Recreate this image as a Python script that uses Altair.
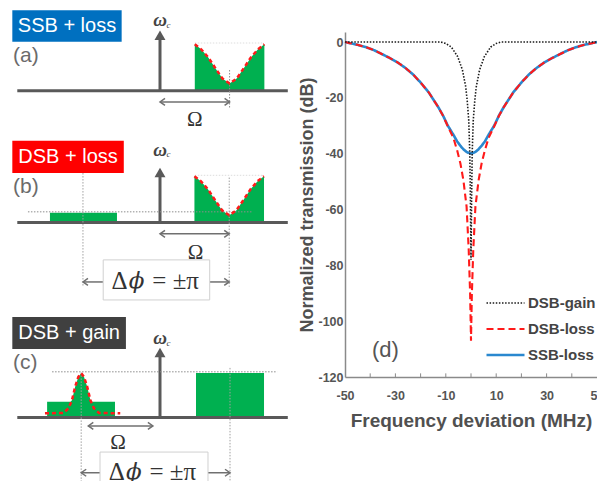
import altair as alt
import pandas as pd

# ---------------- panel (d) data ----------------
SERIES = ["DSB-gain", "DSB-loss", "SSB-loss"]
SERIES_COLORS = ["#1a1a1a", "#ff1a1a", "#2a88cf"]
SERIES_DASH = [[1.5, 1.6], [7, 4], [1, 0]]
SERIES_WIDTH = [1.6, 2.6, 3.0]

SSB_F = [-50, -48, -45, -41.8, -38.5, -35.6, -32.5, -29.3, -26, -23, -20, -16.8, -13, -11, -9.3, -7, -5.5, -4, -3, -2, -1,
         0, 1, 2, 3, 4, 5.5, 7, 9.3, 11, 13, 16.8, 20, 23, 26, 29.3, 32.5, 35.6, 38.5, 41.8, 45, 48, 50]
SSB_DB = [0, -0.4, -1.0, -1.8, -2.9, -4.2, -5.6, -7.2, -9.3, -11.6, -14.5, -18.0, -23.3, -26.5, -29.8, -33.2, -35.6, -37.4, -38.4, -39.2, -39.7,
          -39.9, -39.7, -39.2, -38.4, -37.4, -35.6, -33.2, -29.8, -26.5, -23.3, -18.0, -14.5, -11.6, -9.3, -7.2, -5.6, -4.2, -2.9, -1.8, -1.0, -0.4, 0]

DSBL_F = [-50, -48, -45, -41.8, -38.5, -35.6, -32.5, -29.3, -26, -23, -20, -16.8, -13, -11, -9.3, -7, -5.5, -4.2, -3, -1.75, -0.9, -0.35,
          0, 0.35, 0.9, 1.75, 3, 4.2, 5.5, 7, 9.3, 11, 13, 16.8, 20, 23, 26, 29.3, 32.5, 35.6, 38.5, 41.8, 45, 48, 50]
DSBL_DB = [0, -0.4, -1.0, -1.8, -2.9, -4.2, -5.6, -7.2, -9.3, -11.6, -14.5, -18.0, -23.3, -26.6, -30.0, -34.3, -38.8, -43.5, -49.6, -59.0, -74.6, -90.0,
           -107.0, -90.0, -74.6, -59.0, -49.6, -43.5, -38.8, -34.3, -30.0, -26.6, -23.3, -18.0, -14.5, -11.6, -9.3, -7.2, -5.6, -4.2, -2.9, -1.8, -1.0, -0.4, 0]

DSBG_F = [-50, -12, -10, -7.8, -5.3, -3.4, -2.1, -1.5, -0.9, -0.5, -0.25, 0, 0.25, 0.5, 0.9, 1.5, 2.1, 3.4, 5.3, 7.8, 10, 12, 50]
DSBG_DB = [0, 0, -0.5, -1.8, -5.2, -10.0, -16.0, -21.0, -28.0, -39.0, -55.0, -78.0, -55.0, -39.0, -28.0, -21.0, -16.0, -10.0, -5.2, -1.8, -0.5, 0, 0]

X_LABELS = [-50, -30, -10, 10, 30, 50]
X_MINOR = [-40, -30, -20, -10, 0, 10, 20, 30, 40]
Y_LABELS = [0, -20, -40, -60, -80, -100, -120]
PANEL_D_TAG = "(d)"

# ---------------- schematic (a)-(c) data ----------------
# x unit: sideband offset Omega = 1, carrier at 0 ; y unit: sideband amplitude = 1
PANEL_SHIFT = [0.0, -2.93, -7.26]
TAG_TEXT = ["SSB + loss", "DSB + loss", "DSB + gain"]
TAG_FILL = ["#0070c0", "#ff0000", "#404040"]
TAG_U0 = [-2.08, -2.08, -2.08]
TAG_U1 = [-0.54, -0.51, -0.48]
TAG_A0 = [1.09, 1.10, 1.52]
TAG_A1 = [1.79, 1.82, 2.23]
LETTER_TEXT = ["(a)", "(b)", "(c)"]
LETTER_A = [0.77, 0.79, 1.20]
CARRIER_TOP = [1.33, 1.21, 1.54]
OMEGA_C_A = [1.57, 1.62, 1.76]
BASE_U = [-2.01, 1.80]

GREEN_PANEL = [1, 2]
GREEN_U0 = [-1.55, 0.507]
GREEN_U1 = [-0.606, 1.465]
GREEN_TOP = [0.216, 0.985]

NOTCH_PANEL = [0, 1]
NOTCH_CENTER = [0.98, 0.975]
NOTCH_DU = [-0.49, -0.4, -0.3, -0.2, -0.1, 0, 0.1, 0.2, 0.3, 0.4, 0.49]
NOTCH_A = [1.03, 0.92, 0.74, 0.5, 0.27, 0.16, 0.27, 0.5, 0.74, 0.92, 1.03]

PEAK_CENTER = -1.11
PEAK_DU = [-0.51, -0.25, -0.18, -0.13, -0.085, -0.04, 0, 0.04, 0.085, 0.13, 0.18, 0.25, 0.55]
PEAK_A = [0.09, 0.1, 0.2, 0.38, 0.68, 0.9, 0.98, 0.9, 0.68, 0.38, 0.2, 0.1, 0.09]
PEAK_FILL_DU = [-0.48, -0.15, -0.13, -0.085, -0.04, 0, 0.04, 0.085, 0.13, 0.15, 0.476]
PEAK_FILL_A = [0.347, 0.347, 0.38, 0.68, 0.9, 0.98, 0.9, 0.68, 0.38, 0.347, 0.347]

GUIDE_PANEL = [0, 0, 1, 1, 1, 1, 2, 2, 2]
GUIDE_U0 = [0.98, 0.49, -1.86, -1.085, 0.975, 0.49, -1.52, -1.11, 0.986]
GUIDE_U1 = [0.98, 1.465, 1.30, -1.085, 0.975, 1.465, 1.65, -1.11, 0.986]
GUIDE_A0 = [0.46, 1.06, 0.238, 1.1, 1.0, 1.05, 1.013, 1.0, 1.1]
GUIDE_A1 = [-0.38, 1.06, 0.238, -1.43, -1.43, 1.05, 1.013, -1.6, -1.6]
GUIDE_COLOR = ["#8c8c8c", "#dddddd", "#8c8c8c", "#a0a0a0", "#a0a0a0", "#dddddd", "#8c8c8c", "#a0a0a0", "#a0a0a0"]

OMEGA_U0 = [0.0, 0.0, -1.01]
OMEGA_U1 = [0.98, 0.975, -0.1]
OMEGA_A = [-0.25, -0.25, -0.19]
OMEGA_LABEL_U = [0.49, 0.5, -0.59]
OMEGA_LABEL_A = [-0.65, -0.67, -0.57]

PHASE_PANEL = [1, 2]
PHASE_BOX_U0 = [-0.80, -0.845]
PHASE_BOX_U1 = [0.70, 0.676]
PHASE_BOX_A0 = [-0.83, -0.77]
PHASE_BOX_A1 = [-1.72, -1.75]
PHASE_TEXT_SHIFT = [0.0, -0.04]
PHASE_TEXT_A = [-1.29, -1.22]
PHASE_ARROW_A = [-1.32, -1.23]
PHASE_LEFT_END = [-1.085, -1.11]
PHASE_RIGHT_END = [0.975, 0.986]
PHASE_PIECES = ["Δ", "ϕ", "= ±π"]
PHASE_PIECE_U = [-0.57, -0.33, 0.22]
PHASE_PIECE_STYLE = ["normal", "italic", "normal"]

# ---------------- build panel (d) ----------------
rows = []
for name, fs, ds in [("SSB-loss", SSB_F, SSB_DB), ("DSB-loss", DSBL_F, DSBL_DB), ("DSB-gain", DSBG_F, DSBG_DB)]:
    for i, (f, d) in enumerate(zip(fs, ds)):
        rows.append({"series": name, "f": f, "db": d, "i": i})
curves = pd.DataFrame(rows)

SANS = "Liberation Sans"
SERIF = "Liberation Serif"

X_ENC = alt.X("f:Q", scale=alt.Scale(domain=[-50, 50], nice=False),
              axis=alt.Axis(values=X_LABELS, labelExpr="'' + datum.value", title="Frequency deviation (MHz)",
                            tickSize=0, labelPadding=12, labelFont=SANS, labelFontWeight="bold",
                            labelFontSize=12.5, labelColor="#555555", labelFlush=False,
                            domainColor="#8a8a8a", domainWidth=1.5, grid=False,
                            titleFont=SANS, titleFontSize=19, titleFontWeight="bold",
                            titleColor="#505050", titlePadding=10))
Y_ENC = alt.Y("db:Q", scale=alt.Scale(domain=[-120, 3.6], nice=False, zero=False),
              axis=alt.Axis(values=Y_LABELS, labelExpr="'' + datum.value", title="Normalized transmission (dB)",
                            tickSize=0, labelPadding=2, labelFont=SANS, labelFontWeight="bold",
                            labelFontSize=12.5, labelColor="#555555",
                            domainColor="#8a8a8a", domainWidth=1.5, grid=False,
                            titleFont=SANS, titleFontSize=18, titleFontWeight="bold",
                            titleColor="#505050", titlePadding=1))
LEG = alt.Legend(title=None, orient="none", legendX=140, legendY=258, symbolType="stroke",
                 symbolSize=1444, labelFont=SANS, labelFontWeight="bold", labelFontSize=15,
                 labelColor="#444444", rowPadding=0, clipHeight=26, labelOffset=2)

base = alt.Chart(curves).mark_line().encode(
    x=X_ENC, y=Y_ENC,
    color=alt.Color("series:N", scale=alt.Scale(domain=SERIES, range=SERIES_COLORS), legend=LEG),
    strokeDash=alt.StrokeDash("series:N", scale=alt.Scale(domain=SERIES, range=SERIES_DASH), legend=LEG),
    strokeWidth=alt.StrokeWidth("series:N", scale=alt.Scale(domain=SERIES, range=SERIES_WIDTH), legend=LEG),
    order="i:Q",
)
line_layers = [base.transform_filter(alt.datum.series == s) for s in ["SSB-loss", "DSB-loss", "DSB-gain"]]

ticks = alt.Chart(pd.DataFrame({"f": X_MINOR, "db": [-120] * len(X_MINOR), "db2": [-118.7] * len(X_MINOR)})).mark_rule(
    color="#8a8a8a", strokeWidth=1).encode(x=X_ENC, y=Y_ENC, y2="db2:Q")
dtag = alt.Chart(pd.DataFrame({"f": [-34], "db": [-110.5], "t": [PANEL_D_TAG]})).mark_text(
    font=SANS, fontSize=22, color="#555555").encode(x=X_ENC, y=Y_ENC, text="t:N")

plot = alt.layer(*line_layers, ticks, dtag)

# ---------------- build schematic ----------------
SX = alt.Scale(domain=[-2, 2], range=[-327, -43])
SY = alt.Scale(domain=[-8, 2], range=[418.7, -31.3])


def ex(f):
    return alt.X(f + ":Q", scale=SX, axis=None)


def ey(f):
    return alt.Y(f + ":Q", scale=SY, axis=None, stack=None)


tags = pd.DataFrame({
    "u0": TAG_U0, "u1": TAG_U1,
    "y0": [a + s for a, s in zip(TAG_A0, PANEL_SHIFT)], "y1": [a + s for a, s in zip(TAG_A1, PANEL_SHIFT)],
    "fill": TAG_FILL, "text": TAG_TEXT,
})
tags["uc"] = (tags.u0 + tags.u1) / 2
tags["yc"] = (tags.y0 + tags.y1) / 2
tag_rect = alt.Chart(tags).mark_rect().encode(x=ex("u0"), x2="u1", y=ey("y0"), y2="y1",
                                              color=alt.Color("fill:N", scale=None))
tag_text = alt.Chart(tags).mark_text(font=SANS, fontSize=20, color="white").encode(
    x=ex("uc"), y=ey("yc"), text="text:N")

letters = pd.DataFrame({"u": [-2.07] * 3, "y": [a + s for a, s in zip(LETTER_A, PANEL_SHIFT)], "t": LETTER_TEXT})
letter_text = alt.Chart(letters).mark_text(font=SANS, fontSize=21, color="#6b6b6b", align="left").encode(
    x=ex("u"), y=ey("y"), text="t:N")

greens = pd.DataFrame({"u0": GREEN_U0, "u1": GREEN_U1,
                       "y0": [PANEL_SHIFT[p] for p in GREEN_PANEL],
                       "y1": [t + PANEL_SHIFT[p] for t, p in zip(GREEN_TOP, GREEN_PANEL)]})
green_rect = alt.Chart(greens).mark_rect(color="#00b050").encode(x=ex("u0"), x2="u1", y=ey("y0"), y2="y1")

nrows = []
for p, c in zip(NOTCH_PANEL, NOTCH_CENTER):
    for i, (du, a) in enumerate(zip(NOTCH_DU, NOTCH_A)):
        nrows.append({"g": str(p), "i": i, "u": c + du, "y": a + PANEL_SHIFT[p], "y0": PANEL_SHIFT[p]})
notch = pd.DataFrame(nrows)
notch_area = alt.Chart(notch).mark_area(color="#00b050", opacity=1).encode(
    x=ex("u"), y=ey("y"), y2=alt.Y2("y0:Q"), detail="g:N")
notch_line = alt.Chart(notch).mark_line(color="#ff1a1a", strokeDash=[4, 3], strokeWidth=2.5).encode(
    x=ex("u"), y=ey("y"), detail="g:N", order="i:Q")

peak_fill = pd.DataFrame({"u": [PEAK_CENTER + d for d in PEAK_FILL_DU],
                          "y": [a + PANEL_SHIFT[2] for a in PEAK_FILL_A],
                          "y0": [PANEL_SHIFT[2]] * len(PEAK_FILL_A)})
peak_area = alt.Chart(peak_fill).mark_area(color="#00b050", opacity=1).encode(
    x=ex("u"), y=ey("y"), y2=alt.Y2("y0:Q"))
peak = pd.DataFrame({"u": [PEAK_CENTER + d for d in PEAK_DU], "y": [a + PANEL_SHIFT[2] for a in PEAK_A],
                     "i": list(range(len(PEAK_A)))})
peak_line = alt.Chart(peak).mark_line(color="#ff1a1a", strokeDash=[4, 3], strokeWidth=2.5).encode(
    x=ex("u"), y=ey("y"), order="i:Q")

baselines = pd.DataFrame({"u0": [BASE_U[0]] * 3, "u1": [BASE_U[1]] * 3, "y": PANEL_SHIFT})
base_rule = alt.Chart(baselines).mark_rule(color="#595959", strokeWidth=3).encode(x=ex("u0"), x2="u1", y=ey("y"))

stems = pd.DataFrame({"u": [0.0] * 3, "y0": PANEL_SHIFT,
                      "y1": [t - 0.14 + s for t, s in zip(CARRIER_TOP, PANEL_SHIFT)],
                      "yh": [t - 0.1 + s for t, s in zip(CARRIER_TOP, PANEL_SHIFT)]})
stem_rule = alt.Chart(stems).mark_rule(color="#595959", strokeWidth=3).encode(x=ex("u"), y=ey("y0"), y2="y1")
stem_head = alt.Chart(stems).mark_point(shape="triangle-up", filled=True, size=120, color="#595959", opacity=1).encode(
    x=ex("u"), y=ey("yh"))

guides = pd.DataFrame({"u0": GUIDE_U0, "u1": GUIDE_U1,
                       "y0": [a + PANEL_SHIFT[p] for a, p in zip(GUIDE_A0, GUIDE_PANEL)],
                       "y1": [a + PANEL_SHIFT[p] for a, p in zip(GUIDE_A1, GUIDE_PANEL)],
                       "c": GUIDE_COLOR})
guide_rule = alt.Chart(guides).mark_rule(strokeDash=[1.5, 1.5], strokeWidth=1).encode(
    x=ex("u0"), x2="u1", y=ey("y0"), y2="y1", color=alt.Color("c:N", scale=None))

# arrows: Omega double arrows and phase arrows
phase_y = [a + PANEL_SHIFT[p] for a, p in zip(PHASE_ARROW_A, PHASE_PANEL)]
arrow_y = [a + s for a, s in zip(OMEGA_A, PANEL_SHIFT)] + phase_y
arrows = pd.DataFrame({
    "u0": OMEGA_U0 + PHASE_BOX_U0 + PHASE_BOX_U1,
    "u1": OMEGA_U1 + PHASE_LEFT_END + PHASE_RIGHT_END,
    "y": [a + s for a, s in zip(OMEGA_A, PANEL_SHIFT)] + phase_y + phase_y,
})
arrow_rule = alt.Chart(arrows).mark_rule(color="#707070", strokeWidth=1.5).encode(x=ex("u0"), x2="u1", y=ey("y"))
left_heads = pd.DataFrame({"u": OMEGA_U0 + PHASE_LEFT_END, "y": arrow_y})
right_heads = pd.DataFrame({"u": OMEGA_U1 + PHASE_RIGHT_END, "y": arrow_y})
lh = alt.Chart(left_heads).mark_point(shape="M1,-0.7L0,0L1,0.7", filled=False, size=100, strokeWidth=1.5,
                                      color="#707070", opacity=1).encode(x=ex("u"), y=ey("y"))
rh = alt.Chart(right_heads).mark_point(shape="M-1,-0.7L0,0L-1,0.7", filled=False, size=100, strokeWidth=1.5,
                                       color="#707070", opacity=1).encode(x=ex("u"), y=ey("y"))

omega_lab = pd.DataFrame({"u": OMEGA_LABEL_U, "y": [a + s for a, s in zip(OMEGA_LABEL_A, PANEL_SHIFT)], "t": ["Ω"] * 3})
omega_text = alt.Chart(omega_lab).mark_text(font=SERIF, fontSize=21, color="#333333").encode(
    x=ex("u"), y=ey("y"), text="t:N")

wc = pd.DataFrame({"u": [0.0] * 3, "y": [a + s for a, s in zip(OMEGA_C_A, PANEL_SHIFT)], "t": ["ω"] * 3})
wc_text = alt.Chart(wc).mark_text(font=SERIF, fontSize=19, fontStyle="italic", fontWeight="bold",
                                  color="#444444").encode(x=ex("u"), y=ey("y"), text="t:N")
wcs = pd.DataFrame({"u": [0.12] * 3, "y": [a - 0.1 + s for a, s in zip(OMEGA_C_A, PANEL_SHIFT)], "t": ["c"] * 3})
wcs_text = alt.Chart(wcs).mark_text(font=SERIF, fontSize=9, fontStyle="italic", color="#444444").encode(
    x=ex("u"), y=ey("y"), text="t:N")

pbox = pd.DataFrame({"u0": PHASE_BOX_U0, "u1": PHASE_BOX_U1,
                     "y0": [a + PANEL_SHIFT[p] for a, p in zip(PHASE_BOX_A0, PHASE_PANEL)],
                     "y1": [a + PANEL_SHIFT[p] for a, p in zip(PHASE_BOX_A1, PHASE_PANEL)]})
pbox_rect = alt.Chart(pbox).mark_rect(fill="white", stroke="#d0d0d0", strokeWidth=1).encode(
    x=ex("u0"), x2="u1", y=ey("y0"), y2="y1")

prow = []
for k, p in enumerate(PHASE_PANEL):
    for piece, pu, st in zip(PHASE_PIECES, PHASE_PIECE_U, PHASE_PIECE_STYLE):
        prow.append({"u": pu + PHASE_TEXT_SHIFT[k], "y": PHASE_TEXT_A[k] + PANEL_SHIFT[p], "t": piece, "st": st})
ptext = pd.DataFrame(prow)
ptext_upright = alt.Chart(ptext).transform_filter(alt.datum.st == "normal").mark_text(
    font=SERIF, fontSize=25, color="#333333").encode(x=ex("u"), y=ey("y"), text="t:N")
ptext_italic = alt.Chart(ptext).transform_filter(alt.datum.st == "italic").mark_text(
    font="DejaVu Serif", fontSize=23, fontStyle="italic", color="#333333").encode(x=ex("u"), y=ey("y"), text="t:N")

schem = alt.layer(tag_rect, tag_text, letter_text, green_rect, notch_area, peak_area, base_rule,
                  stem_rule, stem_head, guide_rule, notch_line, peak_line, arrow_rule, lh, rh,
                  omega_text, wc_text, wcs_text, pbox_rect, ptext_upright, ptext_italic)

chart = alt.layer(plot, schem).resolve_scale(x="independent", y="independent").properties(
    width=252, height=345,
    padding={"left": 337, "top": 24, "right": 0, "bottom": 104},
    autosize=alt.AutoSizeParams(type="none"),
    background="white",
).configure_view(stroke=None)

chart.save("out.html", embed_options={"renderer": "svg", "actions": False})
